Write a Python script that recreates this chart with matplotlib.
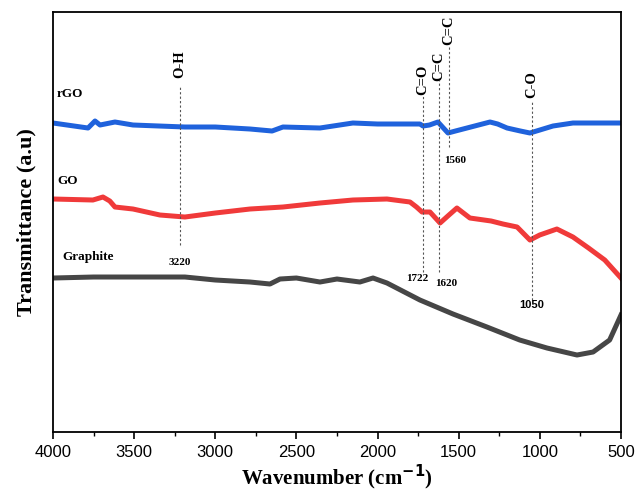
import matplotlib.pyplot as plt
from matplotlib.ticker import MultipleLocator
import numpy as np

# spectra (arbitrary transmittance units)
rgo_wn = [4000, 3784, 3741, 3710, 3618, 3507, 3187, 3000, 2786, 2650, 2583, 2355,
          2152, 2000, 1850, 1739, 1720, 1680, 1628, 1566, 1520, 1449, 1307, 1260,
          1202, 1120, 1061, 1000, 919, 796, 650, 500]
rgo_t = [3.09, 3.04, 3.11, 3.07, 3.10, 3.07, 3.05, 3.05, 3.03, 3.01, 3.05, 3.04,
         3.09, 3.08, 3.08, 3.08, 3.06, 3.07, 3.10, 2.99, 3.01, 3.04, 3.10, 3.08,
         3.04, 3.01, 2.99, 3.02, 3.06, 3.09, 3.09, 3.09]

go_wn = [4000, 3754, 3692, 3650, 3618, 3507, 3341, 3187, 3000, 2786, 2583, 2355,
         2152, 1942, 1800, 1760, 1726, 1677, 1615, 1560, 1511, 1431, 1300, 1227,
         1140, 1061, 1001, 895, 796, 700, 600, 500]
go_t = [2.33, 2.32, 2.35, 2.31, 2.25, 2.23, 2.17, 2.15, 2.19, 2.23, 2.25, 2.29,
        2.32, 2.33, 2.30, 2.25, 2.20, 2.20, 2.09, 2.17, 2.24, 2.14, 2.11, 2.08,
        2.05, 1.92, 1.97, 2.03, 1.95, 1.84, 1.72, 1.54]

gr_wn = [4000, 3750, 3500, 3187, 3000, 2786, 2663, 2601, 2500, 2355, 2250, 2109,
         2028, 1942, 1739, 1535, 1326, 1124, 956, 850, 771, 672, 570, 500]
gr_t = [1.54, 1.55, 1.55, 1.55, 1.52, 1.50, 1.48, 1.53, 1.54, 1.50, 1.53, 1.50,
        1.54, 1.49, 1.32, 1.18, 1.05, 0.92, 0.84, 0.80, 0.77, 0.80, 0.92, 1.17]

# band assignments
bands = [3220, 1722, 1620, 1560, 1050]
band_names = ["O-H", "C=O", "C=C", "C=C", "C-O"]
band_nums = ["3220", "1722", "1620", "1560", "1050"]

fig = plt.figure(figsize=(6.36, 4.98), dpi=100)
ax = fig.add_axes([0.0833, 0.1325, 0.8931, 0.8434])

ax.plot(rgo_wn, rgo_t, color="#1f62dc", lw=3.6, solid_joinstyle="round")
ax.plot(go_wn, go_t, color="#f03a3a", lw=3.6, solid_joinstyle="round")
ax.plot(gr_wn, gr_t, color="#464646", lw=3.6, solid_joinstyle="round")

serif = "Liberation Serif"
ax.text(3975, 3.35, "rGO", fontsize=9.5, fontweight="bold", family=serif)
ax.text(3975, 2.48, "GO", fontsize=9.5, fontweight="bold", family=serif)
ax.text(3945, 1.72, "Graphite", fontsize=9.5, fontweight="bold", family=serif)

# dotted guide lines (y in axis units)
line_top = [3.45, 3.37, 3.52, 3.87, 3.32]
line_bot = [1.87, 1.60, 1.60, 2.85, 1.32]
name_y = [3.68, 3.52, 3.66, 4.02, 3.47]
num_x = [3220, 1755, 1580, 1520, 1050]
num_y = [1.70, 1.54, 1.49, 2.72, 1.27]
for i in range(len(bands)):
    ax.plot([bands[i], bands[i]], [line_bot[i], line_top[i]], color="#555555",
            lw=0.8, ls=(0, (2, 2)))
    ax.text(bands[i], name_y[i], band_names[i], rotation=90, ha="center", va="center",
            fontsize=10.5, fontweight="bold", family=serif)
    fam = "Liberation Sans" if band_nums[i] == "1050" else serif
    ax.text(num_x[i], num_y[i], band_nums[i], ha="center", va="center",
            fontsize=8, fontweight="bold", family=fam)

ax.set_xlim(4000, 500)
ax.set_ylim(0, 4.2)
ax.set_yticks([])
ax.xaxis.set_major_locator(MultipleLocator(500))
ax.xaxis.set_minor_locator(MultipleLocator(250))
ax.tick_params(axis="x", which="major", direction="out", length=5, width=1.2,
               labelsize=12, pad=4)
ax.tick_params(axis="x", which="minor", direction="out", length=3, width=1.0)
for lab in ax.get_xticklabels():
    lab.set_family("Liberation Sans")
for s in ax.spines.values():
    s.set_linewidth(1.3)

ax.set_xlabel("Wavenumber (cm$^{\\mathbf{-1}}$)", fontsize=15, fontweight="bold",
              family=serif, labelpad=2)
ax.set_ylabel("Transmittance (a.u)", fontsize=16, fontweight="bold", family=serif,
              labelpad=12)

fig.savefig("out.png", dpi=100)
